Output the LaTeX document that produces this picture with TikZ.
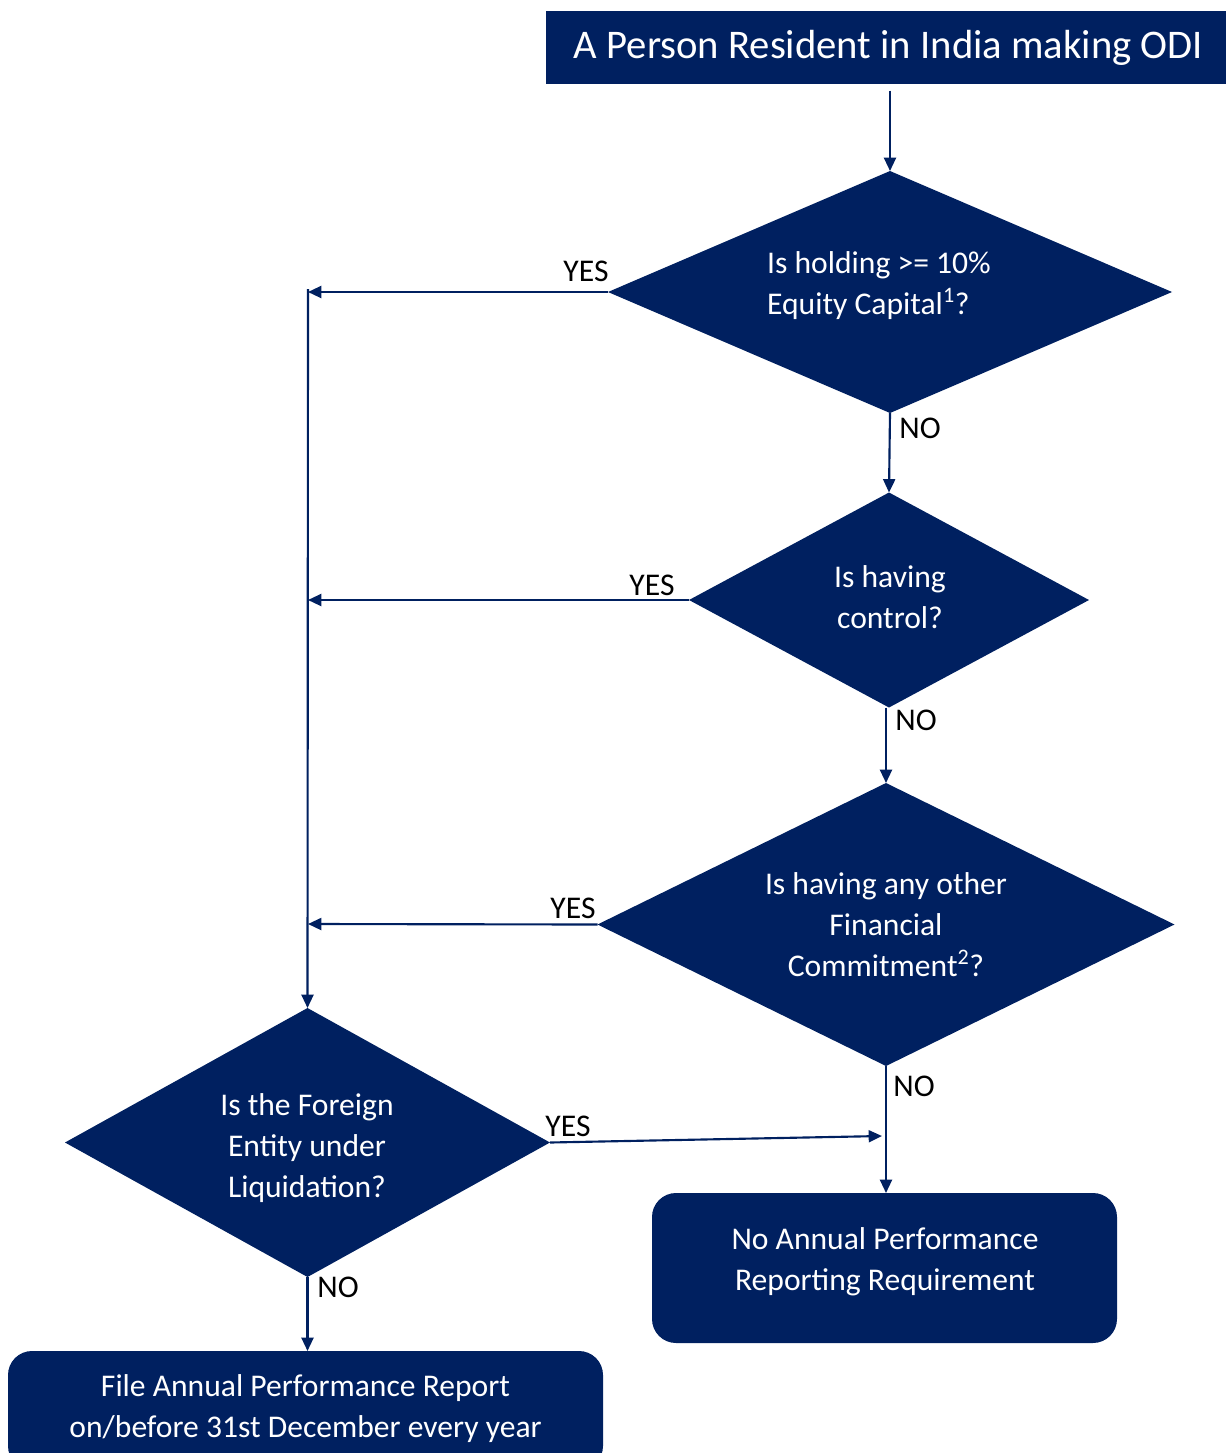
\documentclass[tikz,border=0pt]{standalone}
\usepackage{fontspec}
\setmainfont{Carlito}
\usetikzlibrary{shapes.geometric,arrows.meta}
\definecolor{navy}{RGB}{0,32,96}
\begin{document}
\begin{tikzpicture}[x=0.75pt,y=-0.75pt,
 dia/.style={diamond,fill=navy,draw=none,inner sep=0pt,outer sep=0pt},
 boxs/.style={rectangle,fill=navy,inner sep=0pt,outer sep=0pt},
 rbox/.style={rectangle,rounded corners=18pt,fill=navy,inner sep=0pt,outer sep=0pt},
 wtxt/.style={text=white,font=\fontsize{23.7pt}{30.75pt}\selectfont,align=center,inner sep=0pt},
 lbl/.style={text=black,font=\fontsize{23.7pt}{30.75pt}\selectfont,inner sep=0pt},
 conn/.style={draw=navy,line width=1.6pt,-{Triangle[length=10pt,width=9pt]}},
]
\useasboundingbox (0,0) rectangle (1225,1453);
% boxes
\node[boxs,minimum width=513.75pt,minimum height=54.75pt,text=white,font=\fontsize{30.5pt}{36pt}\selectfont] (title) at (888.5,47.5) {A Person Resident in India making ODI};
\node[dia,minimum width=423pt,minimum height=181.5pt] (d1) at (890,292) {};
\node[wtxt,align=left] (d1t) at (879,286) {Is holding >= 10\%\\Equity Capital\textsuperscript{1}?};
\node[dia,minimum width=300pt,minimum height=161.25pt] (d2) at (889,600) {};
\node[wtxt] (d2t) at (890,597) {Is having\\control?};
\node[dia,minimum width=432.75pt,minimum height=212.25pt] (d3) at (886,924.5) {};
\node[wtxt] (d3t) at (886,925) {Is having any other\\Financial\\Commitment\textsuperscript{2}?};
\node[dia,minimum width=363.75pt,minimum height=201.75pt] (d4) at (307.5,1142.5) {};
\node[wtxt] (d4t) at (307,1148) {Is the Foreign\\Entity under\\Liquidation?};
\node[rbox,minimum width=348.75pt,minimum height=112.5pt] (na) at (884.5,1268) {};
\node[wtxt] (nat) at (885,1261.5) {No Annual Performance\\Reporting Requirement};
\node[rbox,minimum width=446.25pt,minimum height=89.25pt] (fa) at (305.5,1410.5) {};
\node[wtxt] (fat) at (305.5,1409) {File Annual Performance Report\\on/before 31st December every year};
% labels
\node[lbl] (y1) at (586,271) {YES};
\node[lbl] (n1) at (920,428) {NO};
\node[lbl] (y2) at (652,585) {YES};
\node[lbl] (n2) at (916,720) {NO};
\node[lbl] (y3) at (573,908) {YES};
\node[lbl] (n3) at (914,1086) {NO};
\node[lbl] (y4) at (568,1126) {YES};
\node[lbl] (n4) at (338,1287) {NO};
% coordinates
\coordinate (tTop) at (308,289);
\coordinate (t1) at (308,292);
\coordinate (t2) at (308,600);
\coordinate (t3) at (308,924);
\coordinate (j) at (882,1136);
% connectors
\draw[conn,shorten <=5pt] (d1.north |- title.south) -- (d1.north);
\draw[conn] (d1.south) -- (d2.north);
\draw[conn] (d3.north |- d2.south) -- (d3.north);
\draw[conn] (d3.south) -- (d3.south |- na.north);
\draw[conn] (d1.west) -- (t1);
\draw[conn] (d2.west) -- (t2);
\draw[conn] (d3.west) -- (t3);
\draw[conn] (tTop) -- (d4.north);
\draw[conn] (d4.east) -- (j);
\draw[conn] (d4.south) -- (d4.south |- fa.north);
\end{tikzpicture}
\end{document}
